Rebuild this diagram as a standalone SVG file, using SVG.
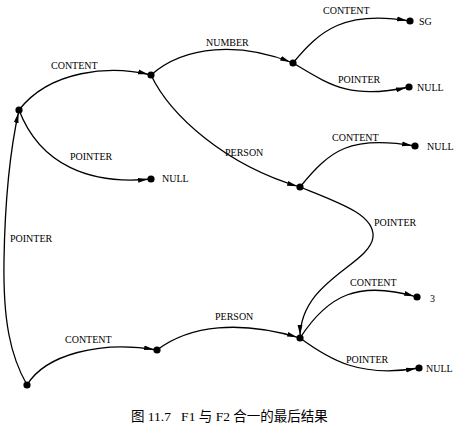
<svg xmlns="http://www.w3.org/2000/svg" width="462" height="427" viewBox="0 0 462 427">
<style>
.e{fill:none;stroke:#000;stroke-width:1.3;marker-end:url(#ah)}
.n{fill:#000}
.l{font-family:"Liberation Serif","Times New Roman",serif;font-size:10px;fill:#000}
.c{font-family:"Liberation Serif","Noto Sans CJK SC",serif;font-size:13.5px;fill:#000;white-space:pre}
</style>
<defs>
<marker id="ah" markerUnits="userSpaceOnUse" viewBox="0 0 10 6" markerWidth="10" markerHeight="6" refX="13" refY="3" orient="auto">
<path d="M0,0.6 L10,3 L0,5.4 z" fill="#000"/>
</marker>
</defs>
<rect width="462" height="427" fill="#fff"/>
<g id="connectors">
<path class="e" d="M27,385 C10,355 3,320 4,260 C5,200 10,150 19,110"/>
<path class="e" d="M19,110 C50,70 110,65 151,75"/>
<path class="e" d="M19,110 C40,165 90,185 151,179"/>
<path class="e" d="M151,75 C185,45 240,42 293,63"/>
<path class="e" d="M151,75 C170,115 225,165 300,187"/>
<path class="e" d="M293,63 C320,30 345,10 410,21"/>
<path class="e" d="M293,63 C330,85 350,100 409,87"/>
<path class="e" d="M300,187 C330,150 350,135 415,146"/>
<path class="e" d="M300,187 C340,203 375,215 373,237 C370,265 300,280 300,338"/>
<path class="e" d="M157,350 C190,325 240,320 300,338"/>
<path class="e" d="M27,385 C45,355 100,340 157,350"/>
<path class="e" d="M300,338 C328,295 358,280 417,297"/>
<path class="e" d="M300,338 C330,360 360,378 419,368"/>
</g>
<g id="labels">
<text class="l" x="10" y="242">POINTER</text>
<text class="l" x="51" y="69">CONTENT</text>
<text class="l" x="70" y="160">POINTER</text>
<text class="l" x="206" y="46">NUMBER</text>
<text class="l" x="225" y="156">PERSON</text>
<text class="l" x="323" y="14">CONTENT</text>
<text class="l" x="338" y="83">POINTER</text>
<text class="l" x="332" y="141">CONTENT</text>
<text class="l" x="374" y="226">POINTER</text>
<text class="l" x="215" y="320">PERSON</text>
<text class="l" x="65" y="343">CONTENT</text>
<text class="l" x="350" y="286">CONTENT</text>
<text class="l" x="346" y="363">POINTER</text>
</g>
<g id="nA"><circle class="n" cx="19" cy="110" r="3.6"/></g>
<g id="nB"><circle class="n" cx="151" cy="75" r="3.6"/></g>
<g id="nNull1"><circle class="n" cx="151" cy="179" r="3.6"/><text class="l" x="162" y="182">NULL</text></g>
<g id="nC"><circle class="n" cx="293" cy="63" r="3.6"/></g>
<g id="nSG"><circle class="n" cx="410" cy="21" r="3.6"/><text class="l" x="419" y="25">SG</text></g>
<g id="nNull2"><circle class="n" cx="409" cy="87" r="3.6"/><text class="l" x="417" y="91">NULL</text></g>
<g id="nD"><circle class="n" cx="300" cy="187" r="3.6"/></g>
<g id="nNull3"><circle class="n" cx="415" cy="146" r="3.6"/><text class="l" x="427" y="150">NULL</text></g>
<g id="nE"><circle class="n" cx="300" cy="338" r="3.6"/></g>
<g id="n3"><circle class="n" cx="417" cy="297" r="3.6"/><text class="l" x="430" y="302">3</text></g>
<g id="nNull4"><circle class="n" cx="419" cy="368" r="3.6"/><text class="l" x="426" y="372">NULL</text></g>
<g id="nF"><circle class="n" cx="27" cy="385" r="3.6"/></g>
<g id="nG"><circle class="n" cx="157" cy="350" r="3.6"/></g>
<text class="c" x="131" y="421">图 11.7   F1 与 F2 合一的最后结果</text>
</svg>
